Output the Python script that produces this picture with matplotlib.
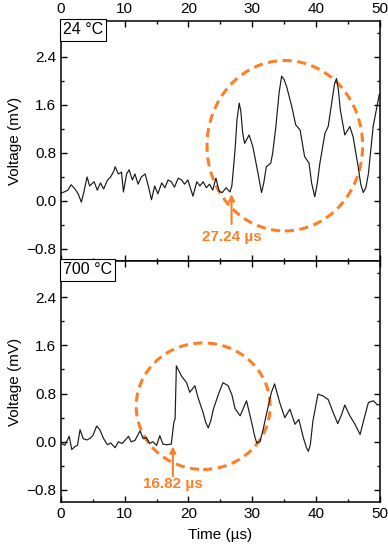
import matplotlib
matplotlib.use('Agg')
import matplotlib.pyplot as plt
from matplotlib.patches import Ellipse
from matplotlib.ticker import MultipleLocator

plt.rcParams['font.family'] = ['Liberation Sans', 'DejaVu Sans']
plt.rcParams['font.size'] = 11

# signal at 24 C (time in us, voltage in mV)
t_24 = [0.0, 0.5, 1.1, 1.6, 2.2, 2.7, 3.2, 3.6, 4.1, 4.5, 5.2, 5.7, 6.2, 6.7, 7.3, 7.8,
        8.3, 8.5, 9.0, 9.5, 9.8, 10.3, 10.7, 11.2, 11.6, 12.1, 12.6, 13.2, 13.7, 14.2,
        14.7, 15.2, 15.8, 16.3, 16.8, 17.3, 17.8, 18.4, 18.9, 19.4, 19.9, 20.7, 21.3,
        21.8, 22.3, 22.8, 23.3, 23.8, 24.3, 24.8, 25.3, 25.9, 26.5, 26.8, 27.3, 27.6,
        27.95, 28.2, 28.5, 28.8, 29.5, 30.1, 30.9, 31.45, 31.8, 32.2, 32.9, 33.2, 33.7,
        34.2, 34.6, 35.0, 35.4, 36.2, 36.8, 37.5, 38.2, 38.9, 39.3, 39.8, 40.2, 40.6,
        41.4, 41.9, 42.6, 42.9, 43.2, 43.5, 43.8, 44.5, 45.3, 45.8, 46.6, 47.0, 47.4,
        47.8, 48.2, 48.95, 49.9]
v_24 = [0.13, 0.15, 0.18, 0.27, 0.20, 0.12, -0.02, 0.15, 0.40, 0.25, 0.32, 0.18, 0.30,
        0.20, 0.35, 0.40, 0.50, 0.57, 0.45, 0.48, 0.15, 0.45, 0.52, 0.35, 0.45, 0.28,
        0.40, 0.45, 0.25, 0.02, 0.25, 0.12, 0.30, 0.22, 0.35, 0.32, 0.23, 0.38, 0.35,
        0.28, 0.35, 0.08, 0.32, 0.25, 0.32, 0.22, 0.28, 0.18, 0.38, 0.16, 0.14, 0.22,
        0.15, 0.25, 0.85, 1.35, 1.63, 1.50, 1.13, 0.96, 1.10, 0.90, 0.46, 0.14, 0.30,
        0.57, 0.63, 0.80, 1.24, 1.80, 2.08, 2.02, 1.90, 1.57, 1.27, 1.18, 0.74, 0.63,
        0.30, 0.07, 0.30, 0.63, 1.13, 1.24, 1.74, 1.95, 2.04, 1.85, 1.52, 1.10, 1.24,
        1.07, 0.57, 0.28, 0.14, 0.22, 0.45, 1.24, 1.77]

# signal at 700 C
t_700 = [0.0, 0.6, 1.3, 1.7, 2.2, 2.6, 3.0, 3.5, 4.1, 4.6, 5.0, 5.6, 6.1, 6.7, 7.3, 7.8,
         8.5, 9.0, 9.6, 10.1, 10.6, 11.0, 11.6, 12.4, 12.9, 13.4, 13.9, 14.4, 15.0, 15.5,
         16.0, 16.6, 17.3, 17.7, 17.9, 18.1, 18.9, 19.7, 20.2, 21.0, 21.5, 22.3, 22.7,
         23.1, 23.5, 23.9, 24.7, 25.4, 26.2, 26.8, 27.3, 28.1, 29.1, 29.9, 30.4, 30.7,
         31.2, 31.7, 32.2, 33.0, 33.5, 34.3, 35.1, 35.9, 36.7, 37.3, 38.0, 38.5, 38.8,
         39.1, 39.5, 40.3, 41.1, 41.9, 42.7, 43.4, 44.0, 44.5, 45.3, 46.1, 46.9, 47.5,
         48.2, 49.0, 49.6, 50.0]
v_700 = [-0.02, -0.06, 0.09, -0.13, -0.08, -0.06, 0.20, 0.05, 0.03, 0.06, 0.10, 0.26,
         0.20, 0.05, -0.05, -0.02, -0.10, 0.00, -0.03, 0.03, 0.09, 0.00, 0.02, 0.18,
         0.05, 0.07, -0.03, 0.00, -0.06, 0.10, -0.04, -0.05, -0.04, 0.32, 0.38, 1.26,
         1.09, 0.98, 0.82, 0.93, 0.73, 0.48, 0.32, 0.23, 0.35, 0.54, 0.79, 0.98, 0.93,
         0.78, 0.55, 0.43, 0.68, 0.32, 0.08, -0.02, 0.00, 0.20, 0.45, 0.82, 0.96, 0.65,
         0.40, 0.54, 0.29, 0.37, 0.07, -0.10, -0.16, -0.05, 0.34, 0.79, 0.76, 0.70, 0.48,
         0.30, 0.45, 0.61, 0.43, 0.29, 0.12, 0.37, 0.65, 0.68, 0.61, 0.62]

labels = ['24 °C', '700 °C']
arrival = [27.24, 16.82]

orange = '#ff7f27'

fig = plt.figure(figsize=(3.88, 5.5), dpi=100)
ax1 = fig.add_axes([0.157, 0.5255, 0.822, 0.4365])
ax2 = fig.add_axes([0.157, 0.0873, 0.822, 0.4382])

ax1.plot(t_24, v_24, color='#1a1a1a', lw=0.85)
ax2.plot(t_700, v_700, color='#1a1a1a', lw=0.85)

for ax, lab in zip([ax1, ax2], labels):
    ax.set_xlim(0, 50)
    ax.set_ylim(-1.0, 3.0)
    ax.xaxis.set_major_locator(MultipleLocator(10))
    ax.xaxis.set_minor_locator(MultipleLocator(5))
    ax.set_yticks([-0.8, 0.0, 0.8, 1.6, 2.4])
    ax.yaxis.set_minor_locator(MultipleLocator(0.4))
    ax.tick_params(which='both', direction='in', top=True, right=True, width=1.0)
    ax.tick_params(which='major', length=4.5)
    ax.tick_params(which='minor', length=2.5)
    for s in ax.spines.values():
        s.set_linewidth(1.1)
    ax.set_ylabel('Voltage (mV)', labelpad=3)
    ax.text(0.006, 0.994, lab, transform=ax.transAxes, ha='left', va='top',
            fontsize=11.5, bbox=dict(boxstyle='square,pad=0.2', fc='white', ec='black', lw=0.8))

ax1.tick_params(labeltop=True, labelbottom=False)
ax2.set_xlabel('Time (µs)', labelpad=5)

# dashed circles marking the echo
ax1.add_patch(Ellipse((35.1, 0.92), 24.4, 2.84, fill=False, ec=orange, lw=2.2,
                      ls=(0, (3, 1.8)), clip_on=False))
ax2.add_patch(Ellipse((22.3, 0.59), 21.0, 2.1, fill=False, ec=orange, lw=2.2,
                      ls=(0, (3, 1.8)), clip_on=False))

# arrival arrows
ax1.annotate('', xy=(26.75, 0.16), xytext=(26.75, -0.43),
             arrowprops=dict(arrowstyle='-|>', color=orange, lw=1.5, mutation_scale=9))
ax1.text(26.8, -0.6, f'{arrival[0]:.2f} µs', color=orange, fontweight='bold',
         ha='center', va='center', fontsize=11)
ax2.annotate('', xy=(17.55, -0.03), xytext=(17.55, -0.62),
             arrowprops=dict(arrowstyle='-|>', color=orange, lw=1.5, mutation_scale=9))
ax2.text(17.5, -0.7, f'{arrival[1]:.2f} µs', color=orange, fontweight='bold',
         ha='center', va='center', fontsize=11)

fig.savefig('out.png', dpi=100)
